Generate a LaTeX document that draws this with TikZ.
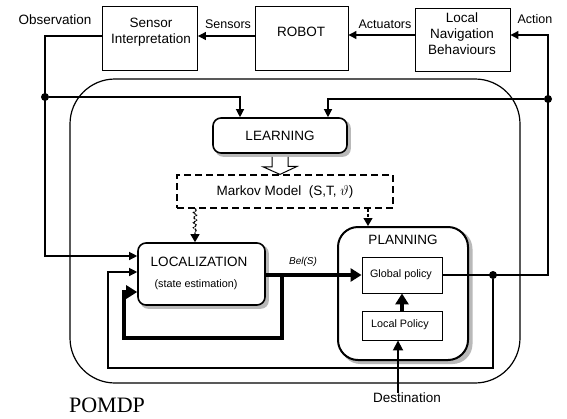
\documentclass[tikz,border=0pt]{standalone}
\usepackage{fontspec}
\setmainfont{Liberation Sans}
\newfontfamily\pomdpfont{Liberation Serif}
\usetikzlibrary{arrows.meta,backgrounds,decorations.pathmorphing,calc}
\begin{document}
\begin{tikzpicture}[x=1pt,y=-1pt,
  thinline/.style={line width=1.2pt},
  tip/.style={-{Triangle[length=8pt,width=8pt]}},
  plainbox/.style={draw,line width=0.9pt,inner sep=0pt,fill=white},
  roundbox/.style={draw,line width=1.6pt,rounded corners=8pt,fill=white,inner sep=0pt},
  shade box/.style={fill=gray!55},
  lbl/.style={inner sep=0pt,align=center,font=\fontsize{13.5}{16}\selectfont},
  midlbl/.style={inner sep=0pt,font=\fontsize{12.5}{14}\selectfont},
  small/.style={inner sep=0pt,align=center,font=\fontsize{10.8}{12}\selectfont},
  dot/.style={circle,fill,inner sep=0pt,minimum size=8pt},
  thick arrow/.style={line width=3.6pt,line join=miter,-{Triangle[length=11pt,width=13pt]}},
]
\useasboundingbox (0,0) rectangle (567,418);

% outer POMDP frame
\draw[line width=1.2pt,rounded corners=45pt] (70,79) rectangle (520,383);
\node[inner sep=0pt,font=\pomdpfont\fontsize{22}{24}\selectfont] (pomdp) at (107,405) {POMDP};

% top row of blocks
\node[plainbox,minimum width=95pt,minimum height=64pt] (sensor) at (150,38.5) {};
\node[lbl] (sensorT) at (151,32) {Sensor\\Interpretation};
\node[plainbox,minimum width=93pt,minimum height=64pt] (robot) at (301.5,38.5) {};
\node[lbl] (robotT) at (301,32) {ROBOT};
\node[plainbox,minimum width=95pt,minimum height=63pt] (localnav) at (462.5,39.5) {};
\node[lbl] (localnavT) at (462,34) {Local\\Navigation\\Behaviours};

% labels on the top connectors
\node[lbl] (obsT) at (55,20) {Observation};
\node[midlbl] (sensT) at (228,24) {Sensors};
\node[midlbl] (actT) at (385,24) {Actuators};
\node[midlbl] (actionT) at (535,19) {Action};

% inner blocks
\node[roundbox,minimum width=134pt,minimum height=35pt] (learning) at (280,135.5) {};
\node[lbl] (learningT) at (280,136) {LEARNING};
\node[draw,line width=1.2pt,dash pattern=on 7pt off 4pt,inner sep=0pt,
      minimum width=216pt,minimum height=33pt] (markov) at (285,191.5) {};
\node[lbl] (markovT) at (285,192) {Markov Model\ \ (S,T, $\vartheta$)};
\node[roundbox,minimum width=127pt,minimum height=62pt] (localization) at (201.5,274) {};
\node[lbl] (locT) at (199,262) {LOCALIZATION};
\node[small] (locT2) at (196,285) {(state estimation)};
\node[roundbox,rounded corners=20pt,line width=2pt,minimum width=130pt,minimum height=133pt] (planning) at (403,293.5) {};
\node[lbl] (planT) at (403,240) {PLANNING};
\node[plainbox,minimum width=80pt,minimum height=36pt] (global) at (402,275) {};
\node[small] (globalT) at (401,275) {Global policy};
\node[plainbox,minimum width=80pt,minimum height=29pt] (localpol) at (402,325.5) {};
\node[small] (localpolT) at (400,325) {Local Policy};
\node[lbl] (dest) at (407,398) {Destination};
\node[inner sep=0pt,font=\itshape\fontsize{10}{12}\selectfont] (belT) at (303,262) {Bel(S)};

% grey drop shadows behind the rounded blocks
\begin{scope}[on background layer]
  \fill[shade box,rounded corners=8pt] ($(learning.south west)+(3,3)$) rectangle ($(learning.north east)+(3,3)$);
  \fill[shade box,rounded corners=8pt] ($(localization.south west)+(3,3)$) rectangle ($(localization.north east)+(3,3)$);
  \fill[shade box,rounded corners=20pt] ($(planning.south west)+(3.5,3)$) rectangle ($(planning.north east)+(3.5,3)$);
\end{scope}

% top chain
\draw[thinline,tip] (localnav.west |- 0,35) -- (robot.east |- 0,35);
\draw[thinline,tip] (robot.west |- 0,36) -- (sensor.east |- 0,36);

% observation branch
\node[dot] (dl) at (45,97) {};
\draw[thinline,tip] (sensor.west |- 0,36) -- (45,36) -- (45,256) -- (localization.west |- 0,256);
\draw[thinline,tip] (dl) -- (240,97) -- (learning.north -| 240,0);

% action branch
\node[dot] (dr) at (548,99) {};
\node[dot] (dg) at (493,275) {};
\draw[thinline,tip] (global.east) -- (548,275) -- (548,35) -- (localnav.east |- 0,35);
\draw[thinline,tip] (dr) -- (328,99) -- (learning.north -| 328,0);
\draw[thinline,tip] (dg) -- (493,368) -- (108,368) -- (108,272) -- (localization.west |- 0,272);

% learning produces the model
\draw[line width=1pt,fill=white] ($(learning.south)+(-8,3)$) -- ++(0,10) -- ++(-9,0)
   -- (markov.north -| learning.south) -- ++(17,-8) -- ++(-9,0) -- ($(learning.south)+(8,3)$);

% model used by localization and planning
\draw[line width=1.2pt,dash pattern=on 1.6pt off 0.9pt,decorate,
      decoration={snake,amplitude=1.6pt,segment length=5pt,post length=8pt},
      -{Triangle[length=8pt,width=9pt]}] (markov.south -| 195,0) -- (localization.north -| 195,0);
\draw[line width=1.2pt,dash pattern=on 3pt off 2pt,-{Triangle[length=8pt,width=9pt]}]
   (markov.south -| 368,0) -- (planning.north -| 368,0);

% belief state
\draw[thick arrow] (localization.east |- 0,275) -- (global.west);
\draw[thick arrow] (282,275) -- (282,338) -- (124,338) -- (124,292) -- (localization.west |- 0,292);
\draw[thick arrow] (localpol.north) -- (global.south);
\draw[line width=1.8pt,-{Triangle[length=10pt,width=10pt]}] (dest.north -| 398,0) -- (localpol.south -| 398,0);
\end{tikzpicture}
\end{document}
